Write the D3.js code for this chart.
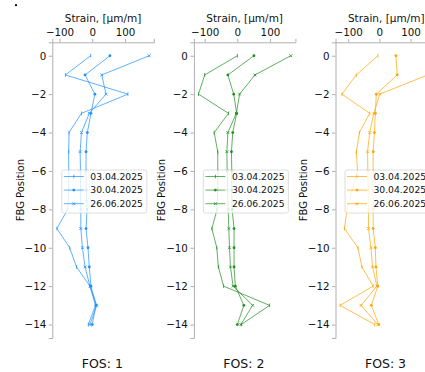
<!DOCTYPE html>
<html>
<head>
<meta charset="utf-8">
<script src="https://cdn.jsdelivr.net/npm/d3@7"></script>
<style>
  body { margin: 0; background: #fff; }
  svg { display: block; font-family: "DejaVu Sans", sans-serif; }
</style>
</head>
<body>
<div id="chart"></div>
<script>
// FBG positions (y) and dates (series)
const POSITIONS = [0, -1, -2, -3, -4, -5, -6, -7, -8, -9, -10, -11, -12, -13, -14];
const DATES = ["03.04.2025", "30.04.2025", "26.06.2025"];
const Y_TICKS = [0, -2, -4, -6, -8, -10, -12, -14];
const PANELS = ["FOS: 1", "FOS: 2", "FOS: 3"];
const COLORS = ["#1e90ff", "#1f8f1f", "#ffa500"];

// strain values, µm/m, one array per FOS and date
const fos1_0304 = [-5, -82, 109, -33, -71, -72, -72, -72, -75, -108, -69, -48, -7, 10, -12];
const fos1_3004 = [54, -22, 8, -4, -15, -19, -19, -18, -16, -19, -13, -9, -4, 11, 0];
const fos1_2606 = [174, 29, 42, -9, -33, -37, -36, -36, -35, -35, -30, -22, -7, 14, -7];

const fos2_0304 = [0, -100, -119, -27, -71, -60, -60, -60, -62, -78, -63, -58, -42, 99, 12];
const fos2_3004 = [51, -29, -11, -2, -14, -18, -17, -17, -16, -10, -10, -10, -6, 20, 0];
const fos2_2606 = [164, 54, 7, -3, -29, -32, -31, -30, -28, -26, -24, -21, -13, 47, 11];

const fos3_0304 = [-5, -74, -120, -31, -64, -74, -70, -88, -104, -112, -69, -56, -20, -126, -15];
const fos3_3004 = [53, 57, -10, -13, -16, -20, -20, -20, -20, -20, -13, -11, -5, -26, -2];
const fos3_2606 = [170, 155, 1, -18, -31, -38, -37, -36, -35, -35, -27, -22, -8, -59, -5];

const SERIES = [
    [fos1_0304, fos1_3004, fos1_2606],
    [fos2_0304, fos2_3004, fos2_2606],
    [fos3_0304, fos3_3004, fos3_2606]
];

// ── Layout ─────────────────────────────────────────────────────
const W = 425, H = 372;
const plotTop = 42.3, plotBottom = 338;
const pW = 101.5, pStep = 141.6, left0 = 52.3;
const axisGrey = "#b0b0b0", textCol = "#111";

const svg = d3.select("#chart").append("svg")
    .attr("width", W)
    .attr("height", H);

// stray dot in the corner of the original figure
svg.append("circle").attr("cx", 16).attr("cy", 5.2).attr("r", 1.1).attr("fill", "#000");

const y = d3.scaleLinear().domain([-14.7, 0.7]).range([plotBottom, plotTop]);

// marker shapes: tick, dot, cross
function marker(sel, kind, color) {
    if (kind === 0) {
        sel.append("path").attr("d", "M0,-1.8V1.8").attr("stroke", color).attr("stroke-width", 0.8);
    } else if (kind === 1) {
        sel.append("circle").attr("r", 1.4).attr("fill", color);
    } else {
        sel.append("path").attr("d", "M-1.4,-1.4L1.4,1.4M-1.4,1.4L1.4,-1.4")
            .attr("stroke", color).attr("stroke-width", 0.8);
    }
}

PANELS.forEach(function (name, p) {
    const x0 = left0 + p * pStep;
    const color = COLORS[p];
    const all = SERIES[p].flat();
    const ext = d3.extent(all);
    const pad = (ext[1] - ext[0]) * 0.05;
    const x = d3.scaleLinear().domain([ext[0] - pad, ext[1] + pad]).range([x0, x0 + pW]);

    const g = svg.append("g");

    // top axis
    const ax = g.append("g")
        .attr("transform", `translate(0,${plotTop})`)
        .call(d3.axisTop(x).ticks(3).tickSize(3.5).tickPadding(2.5));
    ax.attr("font-family", null);
    ax.select(".domain").attr("stroke", axisGrey);
    ax.selectAll(".tick line").attr("stroke", axisGrey);
    ax.selectAll("text").attr("fill", textCol).style("font-size", "10.3px");

    // left axis
    const ay = g.append("g")
        .attr("transform", `translate(${x0},0)`)
        .call(d3.axisLeft(y).tickValues(Y_TICKS).tickSize(3.5).tickPadding(2.5));
    ay.attr("font-family", null);
    ay.select(".domain").attr("stroke", axisGrey);
    ay.selectAll(".tick line").attr("stroke", axisGrey);
    ay.selectAll("text").attr("fill", textCol).style("font-size", "10.3px");

    g.append("text")
        .attr("x", x0 + pW / 2).attr("y", 22)
        .attr("text-anchor", "middle").attr("fill", textCol)
        .style("font-size", "10.5px")
        .text("Strain, [µm/m]");

    g.append("text")
        .attr("transform", `translate(${x0 - 28.5},${(plotTop + plotBottom) / 2}) rotate(-90)`)
        .attr("text-anchor", "middle").attr("fill", textCol)
        .style("font-size", "10px")
        .text("FBG Position");

    g.append("text")
        .attr("x", x0 + 50).attr("y", 368)
        .attr("text-anchor", "middle").attr("fill", textCol)
        .style("font-size", "12.5px")
        .text(name);

    // lines + markers
    const line = d3.line().x(d => x(d[0])).y(d => y(d[1]));
    SERIES[p].forEach(function (vals, s) {
        const pts = vals.map((v, i) => [v, POSITIONS[i]]);
        g.append("path")
            .attr("d", line(pts))
            .attr("fill", "none")
            .attr("stroke", color)
            .attr("stroke-opacity", 0.7)
            .attr("stroke-width", 1);
        pts.forEach(function (d) {
            const m = g.append("g").attr("transform", `translate(${x(d[0])},${y(d[1])})`);
            marker(m, s, color);
        });
    });

    // legend (center left)
    const lx = x0 + 9.5, ly = 170;
    const lg = g.append("g");
    lg.append("rect")
        .attr("x", lx).attr("y", ly).attr("width", 85).attr("height", 43).attr("rx", 2)
        .attr("fill", "#fff").attr("fill-opacity", 0.8)
        .attr("stroke", "#d6d6d6").attr("stroke-width", 0.8);
    DATES.forEach(function (d, s) {
        const ry = ly + 6.5 + s * 13.6;
        lg.append("line")
            .attr("x1", lx + 2).attr("x2", lx + 22).attr("y1", ry).attr("y2", ry)
            .attr("stroke", color).attr("stroke-opacity", 0.7);
        marker(lg.append("g").attr("transform", `translate(${lx + 12},${ry})`), s, color);
        lg.append("text")
            .attr("x", lx + 28.5).attr("y", ry + 3.3)
            .attr("fill", textCol).style("font-size", "9.2px")
            .text(d);
    });
});
</script>
</body>
</html>
